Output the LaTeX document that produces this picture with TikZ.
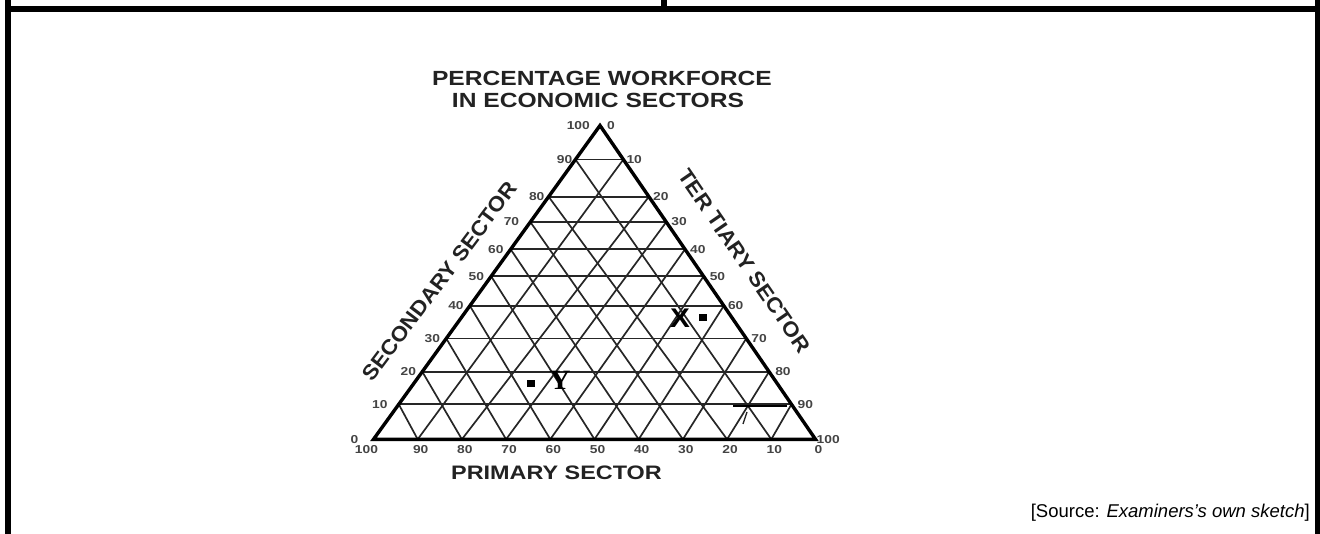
\documentclass[tikz,border=0pt]{standalone}
\usepackage{fontspec}
\setmainfont{Liberation Sans}
\newfontfamily\serifbold{Liberation Serif}
\usepackage{graphicx}
\usetikzlibrary{calc}
\newcommand\wide[2][1.2]{\scalebox{#1}[1]{#2}}
\definecolor{gridc}{HTML}{262626}
\definecolor{numc}{HTML}{444444}
\definecolor{titlec}{HTML}{222222}
\begin{document}
\begin{tikzpicture}[x=1pt,y=-1pt,
  gridline/.style={line width=1.7pt,gridc},
  tri/.style={line width=3.4pt,black,line join=miter},
  num/.style={font=\fontsize{11.5}{12}\selectfont\bfseries,text=numc,inner sep=0pt},
  sector/.style={font=\fontsize{21}{24}\selectfont\bfseries,text=titlec,inner sep=0pt},
  title/.style={font=\fontsize{20.5}{24}\selectfont\bfseries,text=titlec,inner sep=0pt,anchor=base},
  marker/.style={fill=black,draw=none,inner sep=0pt,minimum width=8pt,minimum height=7pt}]
\useasboundingbox (0,0) rectangle (1320,534);
% frame
\draw[line width=6pt] (8,0) -- (8,534);
\draw[line width=6pt] (5,9) -- (1320,9);
\draw[line width=5pt] (1317.5,0) -- (1317.5,534);
\draw[line width=6pt] (664,0) -- (664,9);
% triangle corners
\coordinate (A) at (600,125.5);
\coordinate (L) at (373.5,439.3);
\coordinate (R) at (815.5,439.3);
\foreach \k/\yy in {0/439.3,1/404.3,2/371.7,3/338.5,4/305.8,5/276.3,6/249.3,7/222,8/196.7,9/159.5,10/125.5} {
  \pgfmathsetmacro\lev{(439.3-\yy)/313.8}
  \pgfmathsetmacro\frac{\k/10}
  \coordinate (L\k) at ($(L)!\lev!(A)$);
  \coordinate (R\k) at ($(R)!\lev!(A)$);
  \coordinate (B\k) at ($(L)!\frac!(R)$);
}
% grid
\foreach \k in {1,...,9} {
  \pgfmathtruncatemacro\m{10-\k}
  \draw[gridline] (L\k) -- (R\k);
  \draw[gridline] (B\k) -- (L\k);
  \draw[gridline] (B\k) -- (R\m);
}
\coordinate (s1) at (733,406.3);
\coordinate (s2) at (787,406.3);
\draw[line width=2.4pt,black] (s1) -- (s2);
\coordinate (s3) at (747,412);
\coordinate (s4) at (743,424);
\draw[line width=1.3pt,gridc] (s3) -- (s4);
% triangle
\draw[tri] (A) -- (L) -- (R) -- cycle;
% scale labels
\foreach \k/\dx in {0/-15,1/-11,2/-6,3/-6,4/-6,5/-7,6/-7,7/-11,8/-4,9/-3,10/-10} {
  \pgfmathtruncatemacro\v{10*\k}
  \node[num,anchor=east] (sl\k) at ($(L\k)+(\dx,0)$) {\wide{\v}};
}
\foreach \k/\dx in {0/1,1/6,2/6,3/5,4/4,5/6,6/5,7/5,8/4,9/3,10/7} {
  \pgfmathtruncatemacro\v{100-10*\k}
  \node[num,anchor=west] (tl\k) at ($(R\k)+(\dx,0)$) {\wide{\v}};
}
\foreach \k/\dx in {0/-7,1/3,2/3,3/3,4/3,5/3,6/3,7/3,8/3,9/3,10/3} {
  \pgfmathtruncatemacro\v{100-10*\k}
  \node[num] (pl\k) at ($(B\k)+(\dx,10)$) {\wide{\v}};
}
% titles
\node[title] (t1) at (602,85.5) {\wide{PERCENTAGE WORKFORCE}};
\node[title] (t2) at (598,108) {\wide{IN ECONOMIC SECTORS}};
\node[title,font=\fontsize{19.5}{22}\selectfont\bfseries] (prim) at (556.5,479) {\wide{PRIMARY SECTOR}};
\node[sector,rotate=53] (sec) at (439.5,281) {\wide[1.07]{SECONDARY SECTOR}};
\node[sector,rotate=-55.5] (ter) at (744.5,261) {\wide[1.07]{TER TIARY SECTOR}};
% points
\node[inner sep=0pt,font=\fontsize{27}{30}\selectfont\bfseries] (X) at (680,318) {\wide[1.1]{X}};
\node[marker] (xm) at (703,318) {};
\node[inner sep=0pt,font=\serifbold\fontsize{28}{30}\selectfont\bfseries] (Y) at (560,380) {\wide[1.05]{Y}};
\node[marker] (ym) at (531,383.5) {};
% source
\node[anchor=base east,inner sep=0pt,font=\fontsize{18.5}{22}\selectfont] (src) at (1310,517) {[Source: \textit{Examiners’s own sketch}]};
\end{tikzpicture}
\end{document}
